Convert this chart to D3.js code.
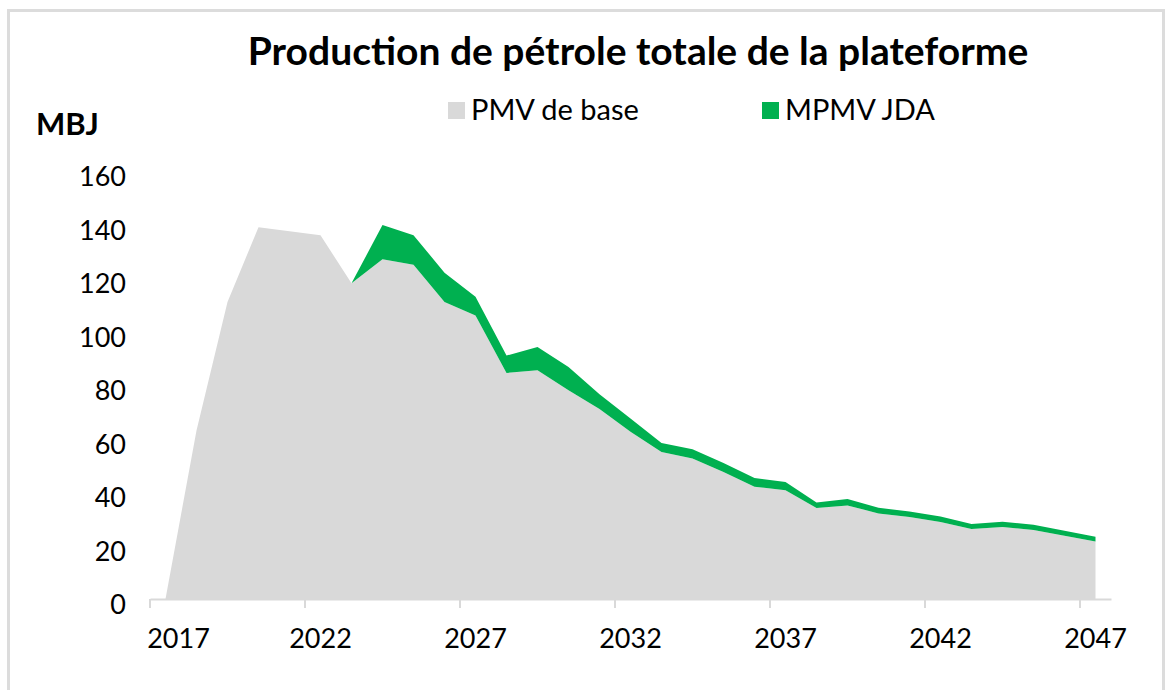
<!DOCTYPE html>
<html>
<head>
<meta charset="utf-8">
<script src="https://cdn.jsdelivr.net/npm/d3@7"></script>
<style>
    body { margin: 0; background: #fff; }
    svg { display: block; }
    .tickLabel { font-family: Lato, "Open Sans", sans-serif; font-size: 27px; fill: #000; }
    .legendText { font-family: Lato, "Open Sans", sans-serif; font-size: 29px; fill: #000; }
    .chartTitle { font-family: Lato, "Open Sans", sans-serif; font-size: 39px; font-weight: bold; fill: #000; }
    .unitLabel { font-family: Lato, "Open Sans", sans-serif; font-size: 31px; font-weight: bold; fill: #000; }
</style>
</head>
<body>
<script>
// data (MBJ per year)
var years = [2017, 2018, 2019, 2020, 2021, 2022, 2023, 2024, 2025, 2026,
    2027, 2028, 2029, 2030, 2031, 2032, 2033, 2034, 2035, 2036,
    2037, 2038, 2039, 2040, 2041, 2042, 2043, 2044, 2045, 2046, 2047];

// PMV de base
var baseValues = [0, 63, 111, 139, 137.5, 136, 118, 127, 125, 111,
    106, 84.5, 85.5, 78, 71, 62.5, 55, 52.5, 47.5, 42,
    40.7, 34, 35, 32, 30.7, 28.8, 26.2, 26.9, 25.8, 23.6, 21.5];

// MPMV JDA (added on top of base)
var jdaValues = [0, 0, 0, 0, 0, 0, 0, 12.8, 11, 11,
    7, 6.5, 8.7, 8.7, 5.5, 5, 3.3, 3.5, 3.3, 3.2,
    3, 2.1, 2.4, 2.1, 2, 2, 1.8, 2, 2, 1.9, 1.8];

var seriesNames = ["PMV de base", "MPMV JDA"];
var seriesColors = ["#d9d9d9", "#00b050"];

var yTicks = [0, 20, 40, 60, 80, 100, 120, 140, 160];
var xTickYears = [2017, 2022, 2027, 2032, 2037, 2042, 2047];

var titleText = "Production de pétrole totale de la plateforme";
var unitText = "MBJ";

(function(){

    var width = 1169,
        height = 690;

    var svg = d3.select("body")
        .append("svg")
        .attr("width", width)
        .attr("height", height);

    // light frame around the picture
    svg.append("rect")
        .attr("x", 8.5)
        .attr("y", 10.5)
        .attr("width", 1155)
        .attr("height", 700)
        .attr("fill", "none")
        .attr("stroke", "#dcdcdc")
        .attr("stroke-width", 3);

    //scales
    var xScale = d3.scaleBand()
        .domain(years)
        .range([150, 1111])
        .paddingInner(0)
        .paddingOuter(0);

    var yScale = d3.scaleLinear()
        .domain([0, 160])
        .range([599, 171]);

    var half = xScale.bandwidth() / 2;

    //build the stacked table
    var table = years.map(function(y, i){
        return { year: y, base: baseValues[i], jda: jdaValues[i] };
    });

    var stack = d3.stack().keys(["base", "jda"]);
    var layers = stack(table);

    var area = d3.area()
        .x(function(d){ return xScale(d.data.year) + half; })
        .y0(function(d){ return yScale(d[0]); })
        .y1(function(d){ return yScale(d[1]); });

    svg.selectAll(".layer")
        .data(layers)
        .enter()
        .append("path")
        .attr("class", "layer")
        .attr("d", area)
        .attr("fill", function(d, i){ return seriesColors[i]; });

    //y axis (labels only)
    var yAxis = svg.append("g")
        .attr("transform", "translate(130,0)")
        .call(d3.axisLeft(yScale).tickValues(yTicks).tickSize(0).tickPadding(4));
    yAxis.select(".domain").remove();
    yAxis.selectAll("text")
        .attr("class", "tickLabel")
        .attr("font-family", null)
        .attr("font-size", null)
        .attr("dy", "0.55em");

    //x axis, tick marks sit on category boundaries
    var xAxis = svg.append("g")
        .attr("transform", "translate(0," + yScale(0) + ")")
        .call(d3.axisBottom(xScale).tickValues(xTickYears).tickSize(9).tickSizeOuter(0).tickPadding(21));
    xAxis.select(".domain")
        .attr("stroke", "#d9d9d9")
        .attr("stroke-width", 2);
    xAxis.selectAll(".tick line")
        .attr("x1", -half)
        .attr("x2", -half)
        .attr("stroke", "#d9d9d9")
        .attr("stroke-width", 2);
    xAxis.selectAll("text")
        .attr("class", "tickLabel")
        .attr("font-family", null)
        .attr("font-size", null)
        .attr("dx", function(d){ return d === xTickYears[0] ? 13 : 0; });

    //title
    svg.append("text")
        .attr("class", "chartTitle")
        .attr("x", 638)
        .attr("y", 65)
        .attr("text-anchor", "middle")
        .text(titleText);

    //unit label
    svg.append("text")
        .attr("class", "unitLabel")
        .attr("x", 36)
        .attr("y", 135)
        .text(unitText);

    //legend
    var legendX = [448, 762];
    var legend = svg.selectAll(".legendItem")
        .data(seriesNames)
        .enter()
        .append("g")
        .attr("class", "legendItem")
        .attr("transform", function(d, i){ return "translate(" + legendX[i] + ",102)"; });

    legend.append("rect")
        .attr("width", 17)
        .attr("height", 17)
        .attr("fill", function(d, i){ return seriesColors[i]; });

    legend.append("text")
        .attr("class", "legendText")
        .attr("x", 23)
        .attr("y", 18)
        .text(function(d){ return d; });

})();
</script>
</body>
</html>
